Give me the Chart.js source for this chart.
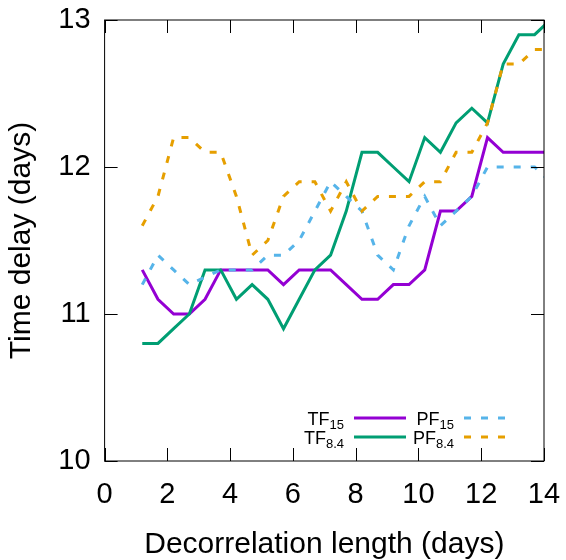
<!DOCTYPE html>
<html lang="en">
<head>
<meta charset="UTF-8">
<title>Time delay vs decorrelation length</title>
<script src="https://cdn.jsdelivr.net/npm/chart.js"></script>
<style>
  html, body { margin: 0; padding: 0; background: #fff; }
</style>
</head>
<body>
<canvas id="chart" width="566" height="560"></canvas>
<script>
// decorrelation length (days) - shared x grid of all curves
const lengths = [1.2, 1.7, 2.2, 2.7, 3.2, 3.7, 4.2, 4.7, 5.2, 5.7, 6.2, 6.7, 7.2, 7.7,
                 8.2, 8.7, 9.2, 9.7, 10.2, 10.7, 11.2, 11.7, 12.2, 12.7, 13.2, 13.7, 14.2];

// time delay (days)
const tf15 = [11.3, 11.1, 11.0, 11.0, 11.1, 11.3, 11.3, 11.3, 11.3, 11.2, 11.3, 11.3, 11.3, 11.2,
              11.1, 11.1, 11.2, 11.2, 11.3, 11.7, 11.7, 11.8, 12.2, 12.1, 12.1, 12.1, 12.1];
const tf84 = [10.8, 10.8, 10.9, 11.0, 11.3, 11.3, 11.1, 11.2, 11.1, 10.9, 11.1, 11.3, 11.4, 11.7,
              12.1, 12.1, 12.0, 11.9, 12.2, 12.1, 12.3, 12.4, 12.3, 12.7, 12.9, 12.9, 13.0];
const pf15 = [11.2, 11.4, 11.3, 11.2, 11.25, 11.3, 11.3, 11.3, 11.4, 11.4, 11.5, 11.7, 11.9, 11.8,
              11.7, 11.4, 11.3, 11.6, 11.8, 11.6, 11.7, 11.8, 12.0, 12.0, 12.0, 12.0, 11.9];
const pf84 = [11.6, 11.8, 12.2, 12.2, 12.1, 12.1, 11.8, 11.4, 11.5, 11.8, 11.9, 11.9, 11.7, 11.9,
              11.7, 11.8, 11.8, 11.8, 11.9, 11.9, 12.1, 12.1, 12.3, 12.7, 12.7, 12.8, 12.8];

const names = ['TF', 'TF', 'PF', 'PF'];
const subs = ['15', '8.4', '15', '8.4'];
const colors = ['#9400d3', '#009e73', '#56b4e9', '#e69f00'];

const FONT = 'Liberation Sans, Arial, sans-serif';

function series(vals) {
    return vals.map((v, i) => ({ x: lengths[i], y: v }));
}

function makeSet(i, vals, dashed) {
    return {
        label: names[i] + subs[i],
        data: series(vals),
        borderColor: colors[i],
        borderWidth: 3,
        borderDash: dashed ? [7, 10] : [],
        pointRadius: 0,
        tension: 0,
        fill: false,
        clip: 0,
        order: 4 - i
    };
}

// box around the plot with inward ticks on all four sides
const frame = {
    id: 'frame',
    afterDatasetsDraw(chart) {
        const { ctx, chartArea: a, scales: { x, y } } = chart;
        const tl = 13;
        ctx.save();
        ctx.strokeStyle = '#000';
        ctx.lineWidth = 1;
        ctx.beginPath();
        x.ticks.forEach(t => {
            const px = Math.round(x.getPixelForValue(t.value)) + 0.5;
            ctx.moveTo(px, a.bottom); ctx.lineTo(px, a.bottom - tl);
            ctx.moveTo(px, a.top); ctx.lineTo(px, a.top + tl);
        });
        y.ticks.forEach(t => {
            const py = Math.round(y.getPixelForValue(t.value)) + 0.5;
            ctx.moveTo(a.left, py); ctx.lineTo(a.left + tl, py);
            ctx.moveTo(a.right, py); ctx.lineTo(a.right - tl, py);
        });
        ctx.stroke();
        ctx.strokeRect(a.left, a.top, a.right - a.left, a.bottom - a.top);
        ctx.restore();
    }
};

// gnuplot-like key: label with subscript, then a line sample
const key = {
    id: 'key',
    afterDraw(chart) {
        const { ctx, chartArea: a } = chart;
        const cols = [{ textRight: a.right - 200, s0: a.right - 190, s1: a.right - 138 },
                      { textRight: a.right - 90, s0: a.right - 80, s1: a.right - 36 }];
        const rows = [a.bottom - 43, a.bottom - 24];
        ctx.save();
        chart.data.datasets.forEach((ds, i) => {
            const c = cols[Math.floor(i / 2)];
            const ly = rows[i % 2];
            ctx.font = '18px ' + FONT;
            const w1 = ctx.measureText(names[i]).width;
            ctx.font = '13px ' + FONT;
            const w2 = ctx.measureText(subs[i]).width;
            const x0 = c.textRight - w1 - w2;
            ctx.fillStyle = '#000';
            ctx.textAlign = 'left';
            ctx.textBaseline = 'alphabetic';
            ctx.font = '18px ' + FONT;
            ctx.fillText(names[i], x0, ly + 7);
            ctx.font = '13px ' + FONT;
            ctx.fillText(subs[i], x0 + w1, ly + 11);

            ctx.strokeStyle = ds.borderColor;
            ctx.lineWidth = ds.borderWidth;
            ctx.setLineDash(ds.borderDash);
            ctx.beginPath();
            ctx.moveTo(c.s0, ly);
            ctx.lineTo(c.s1, ly);
            ctx.stroke();
            ctx.setLineDash([]);
        });
        ctx.restore();
    }
};

const tickFont = { family: FONT, size: 29 };
const titleFont = { family: FONT, size: 30, lineHeight: 1 };

new Chart(document.getElementById('chart'), {
    type: 'line',
    data: {
        datasets: [
            makeSet(0, tf15, false),
            makeSet(1, tf84, false),
            makeSet(2, pf15, true),
            makeSet(3, pf84, true)
        ]
    },
    options: {
        responsive: false,
        animation: false,
        layout: { padding: { left: 0, right: 22, top: 20, bottom: 0 } },
        plugins: { legend: { display: false }, tooltip: { enabled: false } },
        scales: {
            x: {
                type: 'linear',
                min: 0,
                max: 14,
                ticks: { stepSize: 2, font: tickFont, color: '#000', padding: 17, maxRotation: 0, autoSkip: false },
                grid: { display: false, drawTicks: false },
                border: { display: false },
                title: { display: true, text: 'Decorrelation length (days)', font: titleFont, color: '#000', padding: 0 },
                afterFit(s) {
                    s.height = 99;
                    s.paddingLeft = 0;
                    s.paddingRight = 0;
                }
            },
            y: {
                type: 'linear',
                min: 10,
                max: 13,
                ticks: { stepSize: 1, font: tickFont, color: '#000', padding: 14 },
                grid: { display: false, drawTicks: false },
                border: { display: false },
                title: { display: true, text: 'Time delay (days)', font: titleFont, color: '#000', padding: { top: 7, bottom: 0 } },
                afterFit(s) {
                    s.width = 104.6;
                    s.paddingTop = 0;
                    s.paddingBottom = 0;
                }
            }
        }
    },
    plugins: [frame, key]
});
</script>
</body>
</html>
